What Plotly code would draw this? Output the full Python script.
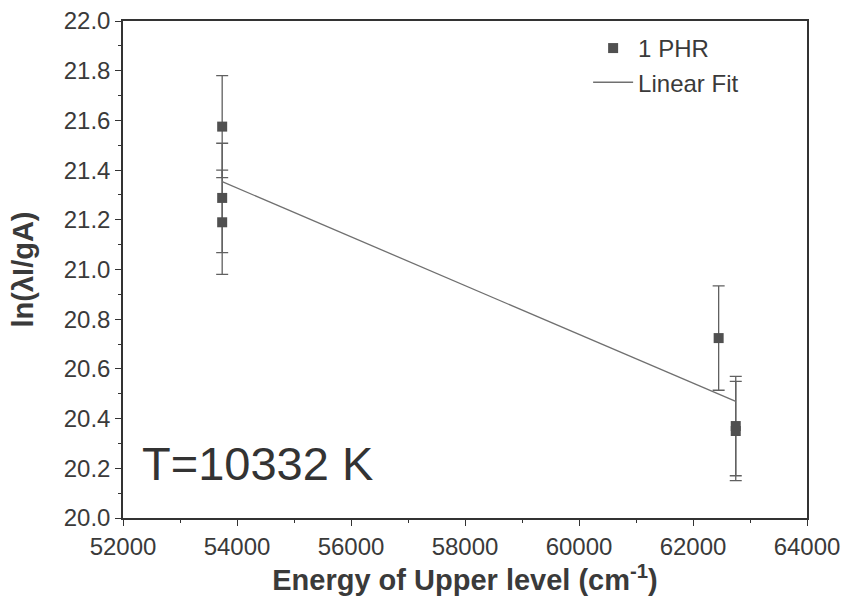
import numpy as np
import plotly.graph_objects as go

energy = [53740, 53740, 53740, 62450, 62750, 62750]
ln_val = [21.575, 21.288, 21.19, 20.724, 20.37, 20.35]
err = [0.205, 0.22, 0.21, 0.21, 0.2, 0.2]
series_name = "1 PHR"
fit_name = "Linear Fit"
annot_text = "T=10332 K"
x_ticks = [52000, 54000, 56000, 58000, 60000, 62000, 64000]
y_ticks = [20.0, 20.2, 20.4, 20.6, 20.8, 21.0, 21.2, 21.4, 21.6, 21.8, 22.0]

slope, intercept = np.polyfit(energy, ln_val, 1)
fit_x = [min(energy), max(energy)]
fit_y = [slope * v + intercept for v in fit_x]

font_family = "Liberation Sans, Arial, sans-serif"
fig = go.Figure()
fig.add_trace(go.Scatter(
    x=energy, y=ln_val, mode="markers", name=series_name,
    marker=dict(symbol="square", size=10, color="#505050"),
    error_y=dict(type="data", array=err, visible=True, color="#606060", thickness=1.3, width=6),
))
fig.add_trace(go.Scatter(
    x=fit_x, y=fit_y, mode="lines", name=fit_name,
    line=dict(color="#707070", width=1.3),
))
fig.add_annotation(x=52290, y=20.22, xref="x", yref="y", text=annot_text, showarrow=False,
                   xanchor="left", yanchor="middle",
                   font=dict(family=font_family, size=47, color="#333333"))

axis_common = dict(showline=True, linecolor="#333333", linewidth=1.5, mirror=True,
                   ticks="outside", ticklen=6, tickwidth=1.3, tickcolor="#333333",
                   showgrid=False, zeroline=False, automargin=False,
                   tickfont=dict(family=font_family, size=24, color="#3a3a3a"))
fig.update_xaxes(range=[52000, 64000], tickvals=x_ticks, ticktext=[str(v) for v in x_ticks],
                 minor=dict(ticks="outside", ticklen=3, dtick=1000, tickcolor="#333333"),
                 title=dict(text="<b>Energy of Upper level (cm<sup>-1</sup>)</b>",
                            font=dict(family=font_family, size=29, color="#3a3a3a"), standoff=6),
                 **axis_common)
fig.update_yaxes(range=[20.0, 22.0], tickvals=y_ticks, ticktext=[f"{v:.1f}" for v in y_ticks],
                 minor=dict(ticks="outside", ticklen=3, dtick=0.1, tickcolor="#333333"),
                 title=dict(text="<b>ln(λI/gA)</b>",
                            font=dict(family=font_family, size=29, color="#3a3a3a"), standoff=22),
                 **axis_common)
fig.update_layout(
    width=842, height=609, plot_bgcolor="white", paper_bgcolor="white",
    margin=dict(l=123, r=35, t=21, b=91),
    legend=dict(x=0.68, y=0.99, xanchor="left", yanchor="top", bgcolor="rgba(0,0,0,0)",
                font=dict(family=font_family, size=24, color="#3a3a3a"), tracegroupgap=0,
                itemwidth=40),
    showlegend=True,
)
fig.write_html("out.html")
